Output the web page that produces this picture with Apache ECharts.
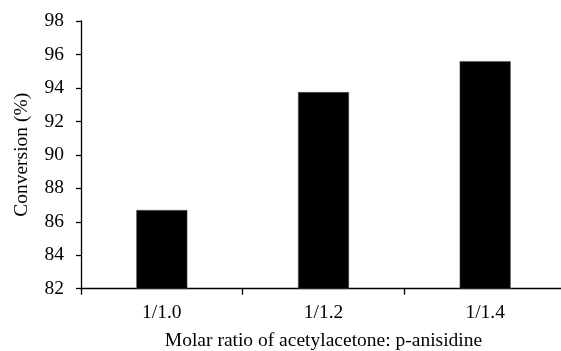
<!DOCTYPE html>
<html>
<head>
<meta charset="utf-8">
<script src="https://cdn.jsdelivr.net/npm/echarts@6/dist/echarts.min.js"></script>
<style>
html,body{margin:0;padding:0;background:#fff;}
#chart{width:561px;height:351px;}
</style>
</head>
<body>
<div id="chart"></div>
<script>
const categories = ['1/1.0', '1/1.2', '1/1.4'];
const conversion = [86.7, 93.75, 95.6];
const yTicks = [82, 84, 86, 88, 90, 92, 94, 96, 98];

const font = '"Liberation Serif", "Times New Roman", serif';
const chart = echarts.init(document.getElementById('chart'), null, {renderer: 'canvas'});
chart.setOption({
  animation: false,
  backgroundColor: '#ffffff',
  grid: {left: 81, right: -5, top: 21, bottom: 62.3, containLabel: false, outerBoundsMode: 'none'},
  xAxis: {
    type: 'category',
    data: categories,
    boundaryGap: true,
    name: 'Molar ratio of acetylacetone: p-anisidine',
    nameLocation: 'middle',
    nameGap: 42,
    nameTextStyle: {fontFamily: font, fontSize: 19.5, color: '#000'},
    axisLine: {lineStyle: {color: '#000', width: 1.3}},
    axisTick: {show: true, length: 6, alignWithLabel: false, lineStyle: {color: '#000', width: 1.3}},
    axisLabel: {fontFamily: font, fontSize: 19.5, color: '#000', margin: 14},
    splitLine: {show: false}
  },
  yAxis: {
    type: 'value',
    min: yTicks[0],
    max: yTicks[yTicks.length - 1],
    interval: 2,
    name: 'Conversion (%)',
    nameLocation: 'middle',
    nameGap: 49,
    nameRotate: 90,
    nameTextStyle: {fontFamily: font, fontSize: 19.5, color: '#000'},
    axisLine: {show: true, lineStyle: {color: '#000', width: 1.3}},
    axisTick: {show: true, length: 5, inside: false, lineStyle: {color: '#000', width: 1.3}},
    axisLabel: {fontFamily: font, fontSize: 19.5, color: '#000', margin: 17},
    splitLine: {show: false}
  },
  series: [{
    type: 'bar',
    data: conversion,
    barWidth: 51,
    itemStyle: {color: '#000', borderColor: '#555', borderWidth: 0.5}
  }]
});
</script>
</body>
</html>
